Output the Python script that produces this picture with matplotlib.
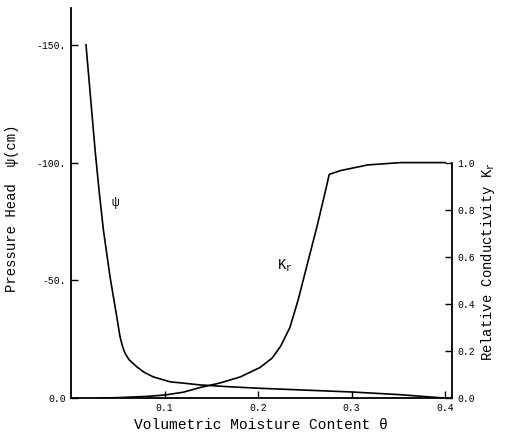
import matplotlib
matplotlib.use("Agg")
import matplotlib.pyplot as plt

plt.rcParams['font.family'] = ['Liberation Mono', 'DejaVu Sans Mono']
plt.rcParams['mathtext.fontset'] = 'custom'
plt.rcParams['mathtext.rm'] = 'Liberation Mono'
plt.rcParams['mathtext.it'] = 'Liberation Mono'

# pressure head curve psi(theta), cm
theta_psi = [0.016, 0.021, 0.0257, 0.030, 0.0346, 0.0417, 0.0489, 0.0524, 0.055,
             0.0578, 0.062, 0.0703, 0.078, 0.088, 0.106, 0.1166, 0.138, 0.17,
             0.2, 0.25, 0.3, 0.35, 0.4]
psi = [-150, -127, -105.4, -88, -71.4, -51.5, -34.5, -26, -22,
       -19, -16.3, -13.3, -11, -9, -6.9, -6.5, -5.6, -4.8,
       -4.2, -3.4, -2.6, -1.5, 0]

# relative conductivity curve Kr(theta)
theta_kr = [0.03, 0.05, 0.08, 0.1, 0.12, 0.138, 0.159, 0.181, 0.202, 0.215, 0.224,
            0.234, 0.243, 0.252, 0.263, 0.272, 0.276, 0.288, 0.317, 0.352, 0.4]
kr = [0.0, 0.002, 0.007, 0.013, 0.025, 0.045, 0.064, 0.09, 0.13, 0.17, 0.22,
      0.30, 0.42, 0.56, 0.73, 0.88, 0.95, 0.966, 0.99, 1.0, 1.0]

psi_ticks = [0, -50, -100, -150]
psi_labels = ['0.0', '-50.', '-100.', '-150.']
x_ticks = [0.1, 0.2, 0.3, 0.4]
kr_ticks = [0.0, 0.2, 0.4, 0.6, 0.8, 1.0]

fig = plt.figure(figsize=(5.11, 4.37), dpi=100)
ax = fig.add_axes([0.139, 0.089, 0.746, 0.893])
ax.plot(theta_psi, psi, color='black', lw=1.2)
ax.set_xlim(0, 0.4075)
ax.set_ylim(0, -165.7)
ax.set_yticks(psi_ticks)
ax.set_yticklabels(psi_labels)
ax.set_xticks(x_ticks)
ax.set_xticklabels(['0.1', '0.2', '0.3', '0.4'])
ax.tick_params(direction='in', labelsize=7, length=5, width=1)
for s in ['top', 'right']:
    ax.spines[s].set_visible(False)
ax.spines['left'].set_linewidth(1.3)
ax.spines['bottom'].set_linewidth(1.3)
ax.text(0.047, -83, 'ψ', fontsize=9, ha='center', va='center')

ax2 = ax.twinx()
ax2.plot(theta_kr, kr, color='black', lw=1.2)
ax2.set_ylim(0, 1.657)
ax2.set_yticks(kr_ticks)
ax2.set_yticklabels(['%.1f' % v for v in kr_ticks])
ax2.tick_params(direction='in', labelsize=7, length=5, width=1)
for s in ['top', 'left', 'bottom']:
    ax2.spines[s].set_visible(False)
ax2.spines['right'].set_bounds(0, 1.0)
ax2.spines['right'].set_linewidth(1.3)
ax2.text(0.228, 0.56, '$K_r$', fontsize=10, ha='center', va='center')

# axis titles placed on the figure
fig.text(261 / 511, 1 - 425 / 437, 'Volumetric Moisture Content θ',
         fontsize=10.5, ha='center', va='center')
fig.text(12 / 511, 1 - 208 / 437, 'Pressure Head  ψ(cm)',
         fontsize=10, ha='center', va='center', rotation=90)
fig.text(488 / 511, 1 - 262 / 437, 'Relative Conductivity $K_r$',
         fontsize=10, ha='center', va='center', rotation=90)

fig.savefig('out.png', dpi=100)
